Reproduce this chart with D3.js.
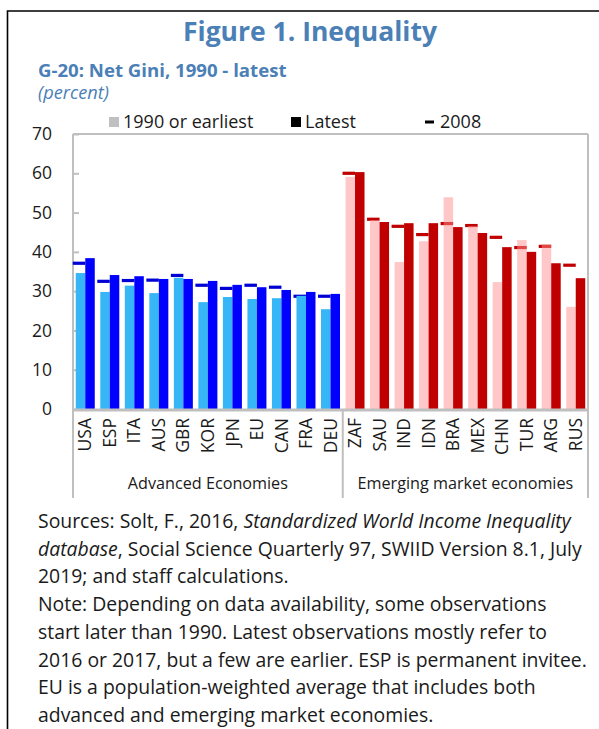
<!DOCTYPE html>
<html>
<head>
<meta charset="utf-8">
<script src="https://cdn.jsdelivr.net/npm/d3@7"></script>
<style>
  body { margin: 0; background: #fff; }
  text { font-family: "Open Sans", "Noto Sans", sans-serif; }
</style>
</head>
<body>
<div class="chart"></div>
<script>
// chart data
var countries = ["USA", "ESP", "ITA", "AUS", "GBR", "KOR", "JPN", "EU", "CAN", "FRA", "DEU",
  "ZAF", "SAU", "IND", "IDN", "BRA", "MEX", "CHN", "TUR", "ARG", "RUS"];
var earliest = [34.6, 29.8, 31.4, 29.5, 33.4, 27.2, 28.5, 28.0, 28.2, 28.8, 25.4,
  59.1, 48.1, 37.4, 42.7, 53.9, 46.6, 32.3, 43.0, 42.0, 26.0];
var latest = [38.4, 34.1, 33.8, 33.1, 33.1, 32.6, 31.6, 31.0, 30.3, 29.8, 29.3,
  60.3, 47.6, 47.3, 47.3, 46.3, 44.8, 41.2, 40.0, 37.1, 33.3];
var value2008 = [37.1, 32.5, 32.7, 32.8, 34.0, 31.5, 30.7, 31.5, 31.0, 28.7, 28.7,
  60.0, 48.3, 46.5, 44.4, 47.2, 46.7, 43.7, 41.1, 41.4, 36.6];
var groupNames = ["Advanced Economies", "Emerging market economies"];
var groupSizes = [11, 10];
var yTicks = [0, 10, 20, 30, 40, 50, 60, 70];
var legendLabels = ["1990 or earliest", "Latest", "2008"];

var noteLines = [
  [["Sources: Solt, F., 2016, ", false], ["Standardized World Income Inequality", true]],
  [["database", true], [", Social Science Quarterly 97, SWIID Version 8.1, July", false]],
  [["2019; and staff calculations.", false]],
  [["Note: Depending on data availability, some observations", false]],
  [["start later than 1990. Latest observations mostly refer to", false]],
  [["2016 or 2017, but a few are earlier. ESP is permanent invitee.", false]],
  [["EU is a population-weighted average that includes both", false]],
  [["advanced and emerging market economies.", false]]
];

var svgWidth = 599;
var svgHeight = 729;
var titleBlue = "#4b80b6";
var axisGrey = "#bfbfbf";

var plot = { left: 73, right: 588, top: 134, bottom: 409, catBottom: 498 };

var svg = d3.select(".chart").append("svg")
  .attr("width", svgWidth)
  .attr("height", svgHeight);

svg.append("rect").attr("width", svgWidth).attr("height", svgHeight).attr("fill", "#fff");

// frame (top + left only)
svg.append("path")
  .attr("d", "M7.5," + svgHeight + "V11H" + svgWidth)
  .attr("fill", "none").attr("stroke", "#000").attr("stroke-width", 1.6);

// titles
svg.append("text").attr("x", 310).attr("y", 41).attr("text-anchor", "middle")
  .attr("font-size", 26.5).attr("font-weight", "bold").attr("fill", titleBlue)
  .text("Figure 1. Inequality");
svg.append("text").attr("x", 38).attr("y", 77)
  .attr("font-size", 18.6).attr("font-weight", "bold").attr("fill", titleBlue)
  .text("G-20: Net Gini, 1990 - latest");
svg.append("text").attr("x", 38).attr("y", 99)
  .attr("font-size", 18.2).attr("font-style", "italic").attr("fill", titleBlue)
  .text("(percent)");

// scales
var x = d3.scaleBand().domain(countries).range([plot.left, plot.right]).padding(0);
var pair = d3.scaleBand().domain(["earliest", "latest"])
  .range([(x.bandwidth() - 19) / 2, (x.bandwidth() + 19) / 2]);
var y = d3.scaleLinear().domain([0, 70]).range([plot.bottom, plot.top]);

function isAdvanced(i) { return i < groupSizes[0]; }

var rows = countries.map(function(c, i) {
  return { country: c, earliest: earliest[i], latest: latest[i], v2008: value2008[i], adv: isAdvanced(i) };
});

// plot box
var grid = svg.append("g");
grid.append("line").attr("x1", plot.left).attr("x2", plot.right).attr("y1", plot.top).attr("y2", plot.top)
  .attr("stroke", axisGrey).attr("stroke-width", 2);
grid.append("line").attr("x1", plot.right).attr("x2", plot.right).attr("y1", plot.top).attr("y2", plot.catBottom)
  .attr("stroke", axisGrey).attr("stroke-width", 2);
grid.append("line").attr("x1", plot.left).attr("x2", plot.left).attr("y1", plot.top).attr("y2", plot.catBottom)
  .attr("stroke", axisGrey).attr("stroke-width", 2);
var sepX = x(countries[groupSizes[0]]);
grid.append("line").attr("x1", sepX).attr("x2", sepX).attr("y1", plot.bottom).attr("y2", plot.catBottom)
  .attr("stroke", axisGrey).attr("stroke-width", 2);

// y axis
var leftAxis = d3.axisLeft(y).tickValues(yTicks).tickSize(-6).tickPadding(21);
var yAxisG = svg.append("g").attr("transform", "translate(" + plot.left + ",0)").call(leftAxis);
yAxisG.select(".domain").remove();
yAxisG.selectAll(".tick line").attr("stroke", axisGrey).attr("stroke-width", 2);
yAxisG.selectAll(".tick text").attr("font-size", 17.5).attr("fill", "#1a1a1a")
  .attr("font-family", "'Open Sans', sans-serif");

// 2008 dashes (behind the earliest bars)
svg.append("g").selectAll("rect").data(rows).enter().append("rect")
  .attr("x", function(d) { return x(d.country) + x.bandwidth() / 2 - 12.5; })
  .attr("y", function(d) { return y(d.v2008) - 1.6; })
  .attr("width", 12.5)
  .attr("height", 3.2)
  .attr("fill", function(d) { return d.adv ? "#0000d4" : "#c00000"; });

// earliest bars
svg.append("g").selectAll("rect").data(rows).enter().append("rect")
  .attr("x", function(d) { return x(d.country) + pair("earliest"); })
  .attr("y", function(d) { return y(d.earliest); })
  .attr("width", pair.bandwidth())
  .attr("height", function(d) { return y(0) - y(d.earliest); })
  .attr("fill", function(d) { return d.adv ? "#36b6f6" : "rgb(255,144,144)"; })
  .attr("fill-opacity", function(d) { return d.adv ? 1 : 0.5; });

// latest bars
svg.append("g").selectAll("rect").data(rows).enter().append("rect")
  .attr("x", function(d) { return x(d.country) + pair("latest"); })
  .attr("y", function(d) { return y(d.latest); })
  .attr("width", pair.bandwidth())
  .attr("height", function(d) { return y(0) - y(d.latest); })
  .attr("fill", function(d) { return d.adv ? "#0000ff" : "#c00000"; });

// x axis line
svg.append("line").attr("x1", plot.left - 1).attr("x2", plot.right + 1).attr("y1", plot.bottom + 1).attr("y2", plot.bottom + 1)
  .attr("stroke", axisGrey).attr("stroke-width", 3);

// category labels
var bottomAxis = d3.axisBottom(x).tickSize(0).tickPadding(0);
var xAxisG = svg.append("g").attr("transform", "translate(0," + plot.bottom + ")").call(bottomAxis);
xAxisG.select(".domain").remove();
xAxisG.selectAll(".tick text")
  .attr("transform", "rotate(-90)")
  .attr("x", -9)
  .attr("y", 0)
  .attr("dy", "0.35em")
  .attr("text-anchor", "end")
  .attr("font-size", 17.5)
  .attr("fill", "#1a1a1a")
  .attr("font-family", "'Open Sans', sans-serif");

// group labels
var start = 0;
groupNames.forEach(function(name, gi) {
  var first = countries[start];
  var last = countries[start + groupSizes[gi] - 1];
  var cx = (x(first) + x(last) + x.bandwidth()) / 2;
  svg.append("text").attr("x", cx).attr("y", 489).attr("text-anchor", "middle")
    .attr("font-size", 16.2).attr("fill", "#1a1a1a").text(name);
  start += groupSizes[gi];
});

// legend
var legend = svg.append("g").attr("font-size", 18).attr("fill", "#1a1a1a");
legend.append("rect").attr("x", 109).attr("y", 117).attr("width", 10).attr("height", 10).attr("fill", "#c0c0c0");
legend.append("text").attr("x", 123).attr("y", 128).text(legendLabels[0]);
legend.append("rect").attr("x", 291).attr("y", 117).attr("width", 10).attr("height", 10).attr("fill", "#000");
legend.append("text").attr("x", 305).attr("y", 128).text(legendLabels[1]);
legend.append("rect").attr("x", 425).attr("y", 120.5).attr("width", 9).attr("height", 3).attr("fill", "#000");
legend.append("text").attr("x", 440).attr("y", 128).text(legendLabels[2]);

// notes
var notes = svg.append("g").attr("font-size", 19.4).attr("fill", "#1a1a1a");
noteLines.forEach(function(line, i) {
  var t = notes.append("text").attr("x", 38).attr("y", 528 + i * 27.7);
  line.forEach(function(seg) {
    t.append("tspan").attr("font-style", seg[1] ? "italic" : "normal").text(seg[0]);
  });
});
</script>
</body>
</html>
